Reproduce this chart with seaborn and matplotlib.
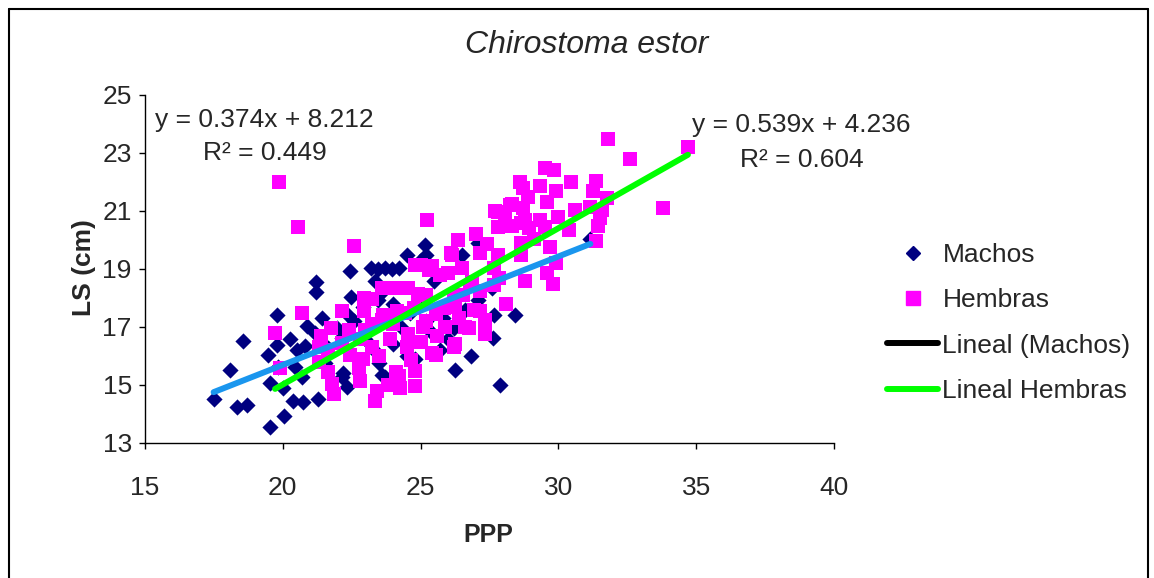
import matplotlib
matplotlib.use("Agg")
import matplotlib.pyplot as plt
import seaborn as sns
import numpy as np
import pandas as pd
from matplotlib.lines import Line2D

# Machos (PPP, LS)
machos_x = [17.49, 18.33, 18.69, 19.54, 20.06, 20.38, 20.74, 21.29, 22.32, 18.08,
            18.57, 19.48, 19.78, 20.26, 20.50, 20.80, 19.54, 20.02, 20.44, 20.68,
            21.17, 21.53, 22.13, 19.83, 19.78, 20.87, 21.41, 22.38, 21.22, 21.22,
            22.44, 22.47, 21.97, 22.13, 21.64, 22.20, 22.58, 23.20, 23.45, 23.70,
            23.95, 24.20, 24.49, 25.16, 24.98, 25.20, 23.35, 23.45, 23.60, 22.90,
            23.00, 23.30, 23.50, 23.70, 24.80, 24.00, 24.30, 24.60, 24.00, 25.00,
            25.50, 25.80, 26.00, 25.40, 26.20, 26.49, 27.10, 27.58, 27.10, 28.42,
            27.64, 26.83, 26.25, 27.88, 27.66, 26.20, 31.16, 23.60, 24.50, 25.20,
            25.70, 26.60]
machos_y = [14.51, 14.23, 14.31, 13.54, 13.93, 14.46, 14.43, 14.51, 14.92, 15.52,
            16.53, 16.04, 16.38, 16.58, 16.21, 16.33, 15.06, 14.89, 15.63, 15.29,
            16.79, 15.75, 15.29, 15.63, 17.42, 17.02, 17.30, 17.42, 18.55, 18.20,
            18.92, 18.02, 16.97, 16.62, 16.28, 15.40, 17.20, 19.05, 19.00, 19.05,
            19.00, 19.05, 19.49, 19.84, 19.26, 19.50, 18.57, 17.94, 18.20, 17.70,
            16.60, 16.20, 15.76, 15.29, 15.90, 16.40, 17.00, 17.50, 17.80, 18.10,
            18.60, 17.30, 16.60, 16.80, 17.90, 19.49, 19.90, 18.35, 17.94, 17.42,
            16.61, 16.01, 15.52, 15.00, 17.43, 16.97, 20.05, 15.35, 16.00, 17.20,
            16.20, 17.60]

# Hembras (PPP, LS)
hembras_x = [31.80, 34.70, 32.60, 33.80, 29.50, 29.85, 28.60, 28.70, 29.35, 29.90,
             30.45, 31.35, 31.25, 31.75, 29.60, 30.60, 31.15, 31.60, 31.50, 30.00,
             29.35, 31.45, 31.35, 30.40, 29.70, 29.90, 29.60, 29.80, 29.50, 28.80,
             28.70, 28.30, 27.80, 28.05, 28.30, 28.95, 29.10, 28.65, 28.10, 27.65,
             27.40, 27.00, 26.35, 26.15, 26.50, 26.85, 27.15, 27.35, 26.75, 26.20,
             25.25, 22.60, 20.55, 19.85, 20.70, 19.72, 19.90, 21.85, 21.80, 23.35,
             23.40, 24.25, 24.80, 24.80, 25.55, 24.65, 24.10, 22.80, 22.75, 22.13,
             21.75, 21.30, 21.30, 21.65, 22.95, 22.95, 23.60, 24.10, 24.55, 25.00,
             25.40, 25.70, 25.20, 24.75, 24.15, 23.65, 23.25, 22.80, 22.45, 23.25,
             23.90, 24.55, 25.20, 25.85, 26.20, 25.55, 26.55, 27.15, 27.65, 27.85,
             28.90, 28.25, 27.70, 28.80, 24.20, 26.25, 25.40, 21.40, 22.15, 21.65,
             27.80, 28.65, 26.10, 27.15, 27.80, 28.65, 26.80, 26.00, 25.30, 24.80,
             24.90, 23.25, 24.45, 26.25, 26.95, 27.35, 25.90, 26.60, 23.60, 25.10,
             23.80, 24.50, 25.00, 23.50, 22.40, 23.00, 24.00, 25.60, 26.40, 22.90]
hembras_y = [23.50, 23.20, 22.80, 21.10, 22.50, 22.40, 22.00, 21.80, 21.85, 21.70,
             22.00, 22.05, 21.70, 21.45, 21.30, 21.05, 21.15, 21.05, 20.75, 20.80,
             20.70, 20.50, 19.95, 20.35, 19.75, 19.20, 18.85, 18.50, 20.45, 18.60,
             21.10, 21.25, 20.95, 20.75, 20.50, 20.40, 20.05, 19.50, 17.80, 19.05,
             19.85, 20.20, 20.00, 19.50, 19.05, 18.55, 17.55, 16.75, 16.95, 16.30,
             20.70, 19.80, 20.45, 22.00, 17.50, 16.80, 15.60, 14.70, 15.05, 14.45,
             14.80, 14.90, 14.95, 15.50, 16.05, 15.85, 15.45, 15.15, 15.60, 17.54,
             16.95, 16.30, 15.80, 15.45, 18.00, 17.55, 18.35, 18.35, 18.35, 19.15,
             19.10, 18.80, 18.10, 17.65, 17.55, 17.40, 17.10, 16.60, 16.05, 16.30,
             16.60, 16.75, 17.20, 17.65, 18.10, 17.45, 18.10, 18.25, 18.45, 18.70,
             21.50, 21.20, 21.00, 20.70, 15.30, 16.40, 16.10, 16.70, 16.45, 16.20,
             20.45, 20.60, 19.55, 19.55, 19.50, 19.90, 18.40, 18.85, 18.95, 19.15,
             18.15, 17.95, 17.50, 17.70, 17.60, 17.25, 17.00, 17.00, 17.25, 17.00,
             15.00, 16.30, 16.50, 16.00, 16.90, 16.90, 17.10, 16.70, 17.30, 15.90]

# trendlines as printed on the chart
machos_fit = (0.374, 8.212, 0.449)
hembras_fit = (0.539, 4.236, 0.604)

x_ticks = [15, 20, 25, 30, 35, 40]
y_ticks = [13, 15, 17, 19, 21, 23, 25]

navy = "#000080"
magenta = "#ff00ff"
blue_line = "#1a96ee"
green_line = "#00ff00"

sns.set_style("white")
plt.rcParams["font.family"] = ["Liberation Sans", "DejaVu Sans"]

W, H = 1154, 578
fig = plt.figure(figsize=(W / 100, H / 100), dpi=100)
ax = fig.add_axes([145 / W, 1 - 443 / H, (834 - 145) / W, (443 - 95) / H])

df_m = pd.DataFrame({"PPP": machos_x, "LS": machos_y})
df_h = pd.DataFrame({"PPP": hembras_x, "LS": hembras_y})

sns.scatterplot(data=df_m, x="PPP", y="LS", marker="D", s=68, color=navy,
                linewidth=0, ax=ax, zorder=2)
sns.scatterplot(data=df_h, x="PPP", y="LS", marker="s", s=105, color=magenta,
                linewidth=0, ax=ax, zorder=3)

# trendlines over each series' range
xm = np.array([min(machos_x), max(machos_x)])
xh = np.array([min(hembras_x), max(hembras_x)])
ax.plot(xm, machos_fit[0] * xm + machos_fit[1], color=blue_line, lw=4.3,
        solid_capstyle="round", zorder=4)
ax.plot(xh, hembras_fit[0] * xh + hembras_fit[1], color=green_line, lw=4.3,
        solid_capstyle="round", zorder=5)

ax.set_xlim(15, 40)
ax.set_ylim(13, 25)
ax.set_xticks(x_ticks)
ax.set_yticks(y_ticks)
ax.tick_params(axis="both", direction="out", length=4.5, width=1, color="black",
               labelsize=19, bottom=True, left=True)
ax.tick_params(axis="x", pad=19)
ax.tick_params(axis="y", pad=5)
for side in ["top", "right"]:
    ax.spines[side].set_visible(False)
for side in ["left", "bottom"]:
    ax.spines[side].set_color("black")
    ax.spines[side].set_linewidth(1)
ax.set_xlabel("")
ax.set_ylabel("")

# equations
ax.text(15.35, 24.15, f"y = {machos_fit[0]}x + {machos_fit[1]}", fontsize=19,
        ha="left", va="center")
ax.text(19.35, 23.0, f"R² = {machos_fit[2]}", fontsize=19, ha="center", va="center")
ax.text(34.85, 23.98, f"y = {hembras_fit[0]}x + {hembras_fit[1]}", fontsize=19,
        ha="left", va="center")
ax.text(38.84, 22.75, f"R² = {hembras_fit[2]}", fontsize=19, ha="center", va="center")

# title and axis labels
fig.text(587 / W, 1 - 45 / H, "Chirostoma estor", fontsize=23, style="italic",
         ha="center", va="center")
fig.text(488 / W, 1 - 535 / H, "PPP", fontsize=18, weight="bold",
         ha="center", va="center")
fig.text(84 / W, 1 - 268 / H, "LS (cm)", fontsize=19, weight="bold",
         rotation=90, ha="center", va="center")

# legend
handles = [
    Line2D([], [], marker="D", color=navy, linestyle="None", markersize=7.5),
    Line2D([], [], marker="s", color=magenta, linestyle="None", markersize=10),
    Line2D([], [], color="black", lw=4.3, solid_capstyle="round"),
    Line2D([], [], color=green_line, lw=4.3, solid_capstyle="round"),
]
labels = ["Machos", "Hembras", "Lineal (Machos)", "Lineal Hembras"]
fig.legend(handles, labels, loc="center left", bbox_to_anchor=(887 / W, 1 - 323 / H),
           frameon=False, fontsize=19, handlelength=1.95, handletextpad=0.15,
           labelspacing=0.81, borderpad=0, borderaxespad=0)

# outer chart border
for xs, ys in [([9, 9], [9, H]), ([9, 1148], [9, 9]), ([1148, 1148], [9, H])]:
    fig.add_artist(Line2D([x / W for x in xs], [1 - y / H for y in ys],
                          color="black", lw=1.5, transform=fig.transFigure))

fig.savefig("out.png", dpi=100)
